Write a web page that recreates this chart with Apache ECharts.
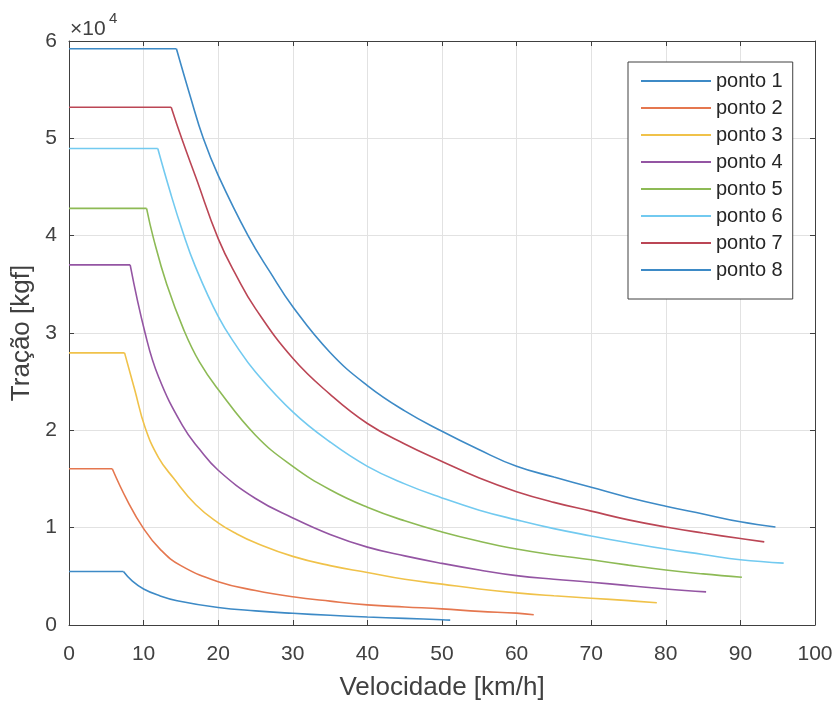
<!DOCTYPE html>
<html>
<head>
<meta charset="utf-8">
<script src="https://cdn.jsdelivr.net/npm/echarts@6/dist/echarts.min.js"></script>
<style>
  html, body { margin: 0; padding: 0; background: #fff; }
  #chart { width: 838px; height: 706px; }
</style>
</head>
<body>
<div id="chart"></div>
<script>
// velocidade [km/h] e tração [kgf] de cada ponto
// (o 2º ponto de cada lista é o fim do patamar de tração constante)
const ponto1V = [0, 7.3, 8.5, 10, 12, 14.5, 20, 25, 30, 35, 40, 45, 50, 51.1];
const ponto1F = [5500, 5500, 4500, 3700, 3050, 2500, 1800, 1450, 1200, 1000, 820, 680, 540, 500];

const ponto2V = [0, 5.8, 7.8, 10, 12.2, 15, 20, 25, 30, 35, 40, 45, 50, 55, 60, 62.3];
const ponto2F = [16050, 16050, 12800, 9900, 7800, 6100, 4450, 3550, 2900, 2450, 2070, 1850, 1660, 1400, 1220, 1050];

const ponto3V = [0, 7.45, 8.8, 10.2, 12, 14, 17, 20, 22.5, 25, 30, 35, 40, 45, 50, 55, 60, 65, 70, 75, 78.8];
const ponto3F = [27960, 27960, 24200, 20300, 17200, 15100, 12350, 10500, 9350, 8450, 7050, 6100, 5400, 4700, 4200, 3700, 3300, 3000, 2750, 2500, 2280];

const ponto4V = [0, 8.2, 10.2, 12, 15.2, 17.5, 20, 25, 30, 35, 40, 45, 50, 55, 60, 65, 70, 75, 80, 85.4];
const ponto4F = [37000, 37000, 30000, 25500, 20500, 18050, 15900, 13000, 11000, 9300, 8000, 7100, 6330, 5650, 5070, 4700, 4400, 4050, 3700, 3400];

const ponto5V = [0, 10.4, 11.3, 13.1, 15.4, 17.5, 20, 25, 30, 35, 40, 45, 50, 55, 60, 65, 70, 75, 80, 85, 90.2];
const ponto5F = [42800, 42800, 39800, 35000, 30300, 27000, 24200, 19500, 16300, 13900, 12100, 10700, 9560, 8600, 7800, 7200, 6700, 6150, 5650, 5250, 4900];

const ponto6V = [0, 11.9, 13.6, 15.2, 16.9, 20, 22.5, 25, 30, 35, 40, 45, 50, 55, 60, 65, 70, 75, 80, 85, 90, 95.8];
const ponto6F = [48950, 48950, 44400, 40500, 36900, 31700, 28600, 26000, 21900, 18800, 16300, 14500, 13060, 11800, 10800, 9900, 9150, 8450, 7800, 7250, 6700, 6360];

const ponto7V = [0, 13.7, 15.1, 17, 20, 22.5, 25, 30, 35, 40, 45, 50, 55, 60, 65, 70, 75, 80, 85, 90, 93.2];
const ponto7F = [53200, 53200, 50000, 46000, 39700, 35800, 32500, 27400, 23700, 20700, 18600, 16800, 15100, 13700, 12600, 11700, 10800, 10070, 9450, 8880, 8540];

const ponto8V = [0, 14.4, 16.3, 18, 20, 24, 27, 30, 35, 40, 45, 50, 55, 60, 65, 70, 75, 80, 85, 90, 94.7];
const ponto8F = [59200, 59200, 54200, 50000, 46200, 40000, 36200, 32700, 28000, 24600, 22000, 19900, 18000, 16300, 15200, 14150, 13100, 12200, 11400, 10600, 10070];

const nomes = ['ponto 1', 'ponto 2', 'ponto 3', 'ponto 4', 'ponto 5', 'ponto 6', 'ponto 7', 'ponto 8'];
const velocidades = [ponto1V, ponto2V, ponto3V, ponto4V, ponto5V, ponto6V, ponto7V, ponto8V];
const tracoes = [ponto1F, ponto2F, ponto3F, ponto4F, ponto5F, ponto6F, ponto7F, ponto8F];
const cores = ['#3d8ac6', '#e5774f', '#f0c24a', '#9455a3', '#8dba55', '#72caf0', '#bb4655', '#3d8ac6'];

const eixo = '#404040';
const fonte = 'Liberation Sans, Arial, sans-serif';

let chart = echarts.init(document.getElementById('chart'));

// eixos secundários (topo / direita) só para fechar a caixa com ticks
function eixoX(pos, principal) {
  return {
    type: 'value', min: 0, max: 100, interval: 10, position: pos,
    axisLine: { show: true, onZero: false, lineStyle: { color: eixo, width: 1 } },
    axisTick: { show: true, inside: true, length: 5, lineStyle: { color: eixo } },
    axisLabel: { show: principal, fontSize: 21, color: eixo, fontFamily: fonte, margin: 19 },
    splitLine: { show: principal, lineStyle: { color: '#e2e2e2', width: 1 } },
    name: principal ? 'Velocidade [km/h]' : '',
    nameLocation: 'middle', nameGap: 50,
    nameTextStyle: { fontSize: 26, color: eixo, fontFamily: fonte }
  };
}
function eixoY(pos, principal) {
  return {
    type: 'value', min: 0, max: 60000, interval: 10000, position: pos,
    axisLine: { show: true, onZero: false, lineStyle: { color: eixo, width: 1 } },
    axisTick: { show: true, inside: true, length: 5, lineStyle: { color: eixo } },
    axisLabel: {
      show: principal, fontSize: 21, color: eixo, fontFamily: fonte, margin: 12,
      padding: [0, 0, 6, 0],
      formatter: v => String(v / 10000)
    },
    splitLine: { show: principal, lineStyle: { color: '#e2e2e2', width: 1 } },
    name: principal ? 'Tração [kgf]' : '',
    nameLocation: 'middle', nameGap: 31, nameRotate: 90,
    nameTextStyle: { fontSize: 26, color: eixo, fontFamily: fonte }
  };
}

// cada ponto: patamar (reto) + curva de queda (suavizada), mesmo nome na legenda
let series = [];
nomes.forEach((nome, i) => {
  let pts = velocidades[i].map((v, k) => [v, tracoes[i][k]]);
  let base = {
    name: nome, type: 'line', symbol: 'none', showSymbol: false,
    lineStyle: { width: 1.6, color: cores[i] },
    itemStyle: { color: cores[i] }
  };
  series.push(Object.assign({}, base, { data: pts.slice(0, 2) }));
  series.push(Object.assign({}, base, { data: pts.slice(1), smooth: 0.45 }));
});

let option = {
  animation: false,
  backgroundColor: '#ffffff',
  grid: { left: 69, right: 23, top: 41, bottom: 78, containLabel: false },
  xAxis: [eixoX('bottom', true), eixoX('top', false)],
  yAxis: [eixoY('left', true), eixoY('right', false)],
  legend: {
    orient: 'vertical',
    left: 628, top: 62,
    padding: [9, 10, 19, 13],
    icon: 'rect',
    itemWidth: 70, itemHeight: 2, itemGap: 7,
    backgroundColor: '#ffffff',
    borderColor: eixo, borderWidth: 1, borderRadius: 0,
    textStyle: { fontSize: 20, color: '#262626', fontFamily: fonte, lineHeight: 19 },
    data: nomes
  },
  graphic: [
    { type: 'text', left: 70, top: 19,
      style: { text: '×10', fontSize: 21, fill: eixo, fontFamily: fonte } },
    { type: 'text', left: 109, top: 11,
      style: { text: '4', fontSize: 15, fill: eixo, fontFamily: fonte } }
  ],
  series: series
};
chart.setOption(option);
</script>
</body>
</html>
